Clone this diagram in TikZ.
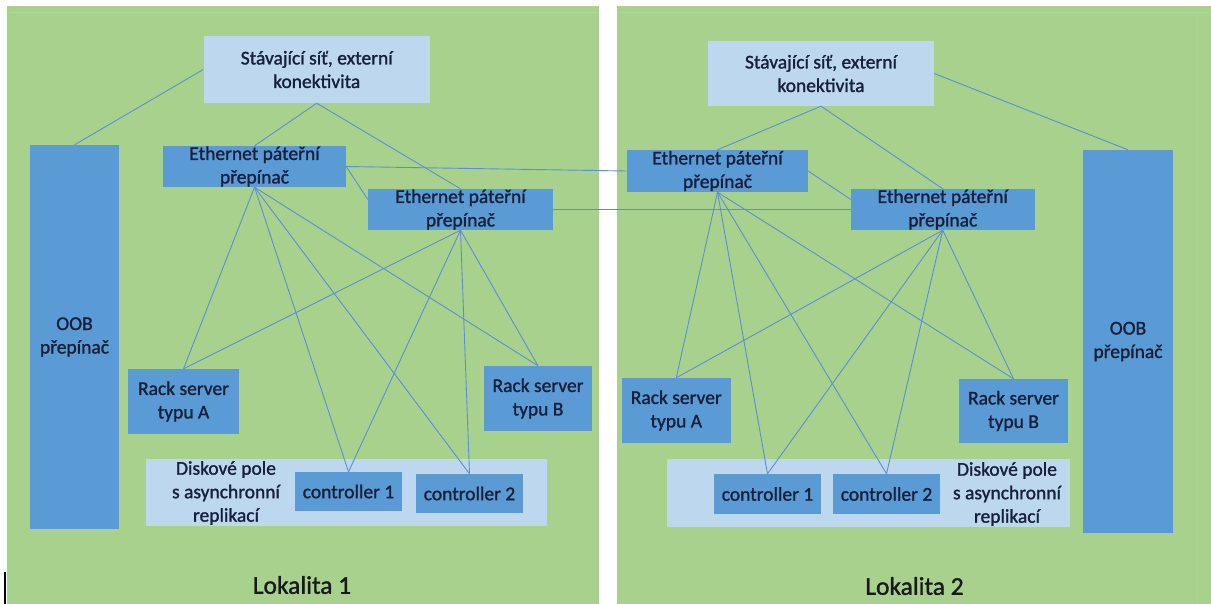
\documentclass[tikz,border=0pt]{standalone}
\usepackage{fontspec}
\setmainfont{Carlito}[FakeBold=1.3]
\usetikzlibrary{calc}

\definecolor{panelgreen}{HTML}{A9D18E}
\definecolor{paneledge}{HTML}{B3D69B}
\definecolor{panelseam}{HTML}{ADD394}
\definecolor{boxblue}{HTML}{5B9BD5}
\definecolor{paleblue}{HTML}{BDD7EE}
\definecolor{linkblue}{HTML}{5B8FD0}
\definecolor{inktext}{HTML}{16203A}

\tikzset{
  panel/.style={fill=panelgreen, draw=none},
  darkbox/.style={fill=boxblue, draw=none, inner sep=0pt, align=center,
    text=inktext, font=\fontsize{19.5}{23.5}\selectfont},
  lightbox/.style={fill=paleblue, draw=none, inner sep=0pt, align=center,
    text=inktext, font=\fontsize{19.5}{23.5}\selectfont},
  plaintext/.style={inner sep=0pt, align=center, text=inktext,
    font=\fontsize{19.5}{23.5}\selectfont},
  sitelabel/.style={inner sep=0pt, text=black!90, font=\fontsize{25.5}{30}\selectfont},
  link/.style={draw=linkblue, line width=0.9pt}
}

\begin{document}
\begin{tikzpicture}[x=1pt, y=-1pt]
\useasboundingbox (0,0) rectangle (1211,604);
\fill[white] (0,0) rectangle (1211,604);

% two site panels
\path[panel] (7,6) rectangle (599,604);
\path[panel] (617,6) rectangle (1211,604);
\draw[paneledge, line width=1pt] (10,13) -- (597,13);
\draw[paneledge, line width=1pt] (620,13) -- (1209,13);
\draw[panelseam, line width=0.8pt] (1197,13) -- (1197,604);
\draw[black, line width=1.2pt] (5,572) -- (5,604);

% ---------- site 1 ----------
\node[lightbox, minimum width=226.5pt, minimum height=67pt] (top1) at (316.75,69.5)
  {Stávající síť, externí\\konektivita};
\node[darkbox, minimum width=89pt, minimum height=384pt] (oob1) at (74.5,337)
  {OOB\\přepínač};
\node[darkbox, minimum width=183pt, minimum height=41pt] (ethA1) at (254.5,166.5)
  {Ethernet páteřní\\přepínač};
\node[darkbox, minimum width=185pt, minimum height=41pt] (ethB1) at (460.5,209.5)
  {Ethernet páteřní\\přepínač};
\node[darkbox, minimum width=111pt, minimum height=65pt] (rackA1) at (183.5,401.5)
  {Rack server\\typu A};
\node[darkbox, minimum width=108pt, minimum height=65pt] (rackB1) at (538,398.5)
  {Rack server\\typu B};
\node[lightbox, minimum width=401pt, minimum height=67pt] (disk1) at (346.5,492.5) {};
\node[plaintext] (disktxt1) at (226,493) {Diskové pole\\s asynchronní\\replikací};
\node[darkbox, minimum width=107pt, minimum height=39pt] (ctlA1) at (348.5,491.5)
  {controller 1};
\node[darkbox, minimum width=107pt, minimum height=39pt] (ctlB1) at (469.5,493.5)
  {controller 2};
\node[sitelabel] (site1) at (302,585) {Lokalita 1};

% ---------- site 2 ----------
\node[lightbox, minimum width=226pt, minimum height=65pt] (top2) at (821,73.5)
  {Stávající síť, externí\\konektivita};
\node[darkbox, minimum width=90pt, minimum height=383pt] (oob2) at (1128,341.5)
  {OOB\\přepínač};
\node[darkbox, minimum width=181pt, minimum height=42pt] (ethA2) at (717.5,171)
  {Ethernet páteřní\\přepínač};
\node[darkbox, minimum width=183.5pt, minimum height=41pt] (ethB2) at (942.75,209.5)
  {Ethernet páteřní\\přepínač};
\node[darkbox, minimum width=108.5pt, minimum height=65pt] (rackA2) at (676.25,410.5)
  {Rack server\\typu A};
\node[darkbox, minimum width=109pt, minimum height=64pt] (rackB2) at (1013.5,411)
  {Rack server\\typu B};
\node[lightbox, minimum width=403pt, minimum height=68pt] (disk2) at (868.5,493) {};
\node[plaintext] (disktxt2) at (1007,494) {Diskové pole\\s asynchronní\\replikací};
\node[darkbox, minimum width=107pt, minimum height=40pt] (ctlA2) at (767.5,494)
  {controller 1};
\node[darkbox, minimum width=107pt, minimum height=40pt] (ctlB2) at (886.5,494)
  {controller 2};
\node[sitelabel] (site2) at (914.5,586) {Lokalita 2};

% ---------- links ----------
\foreach \s in {1,2}{
  \draw[link] (top\s.south) -- (ethA\s.north);
  \draw[link] (top\s.south) -- (ethB\s.north);
  \draw[link] (ethA\s.east) -- ([yshift=10pt]ethB\s.west);
  \foreach \t in {rackA,ctlA,ctlB,rackB}{
    \draw[link] (ethA\s.south) -- (\t\s.north);
    \draw[link] (ethB\s.south) -- (\t\s.north);
  }
}
\draw[link] (top1.west) -- (oob1.north);
\draw[link] (top2.east) -- (oob2.north);

% inter-site links
\draw[link] (ethA1.east) -- (ethA2.west);
\draw[link] (ethB1.east) -- (ethB2.west);
\end{tikzpicture}
\end{document}
